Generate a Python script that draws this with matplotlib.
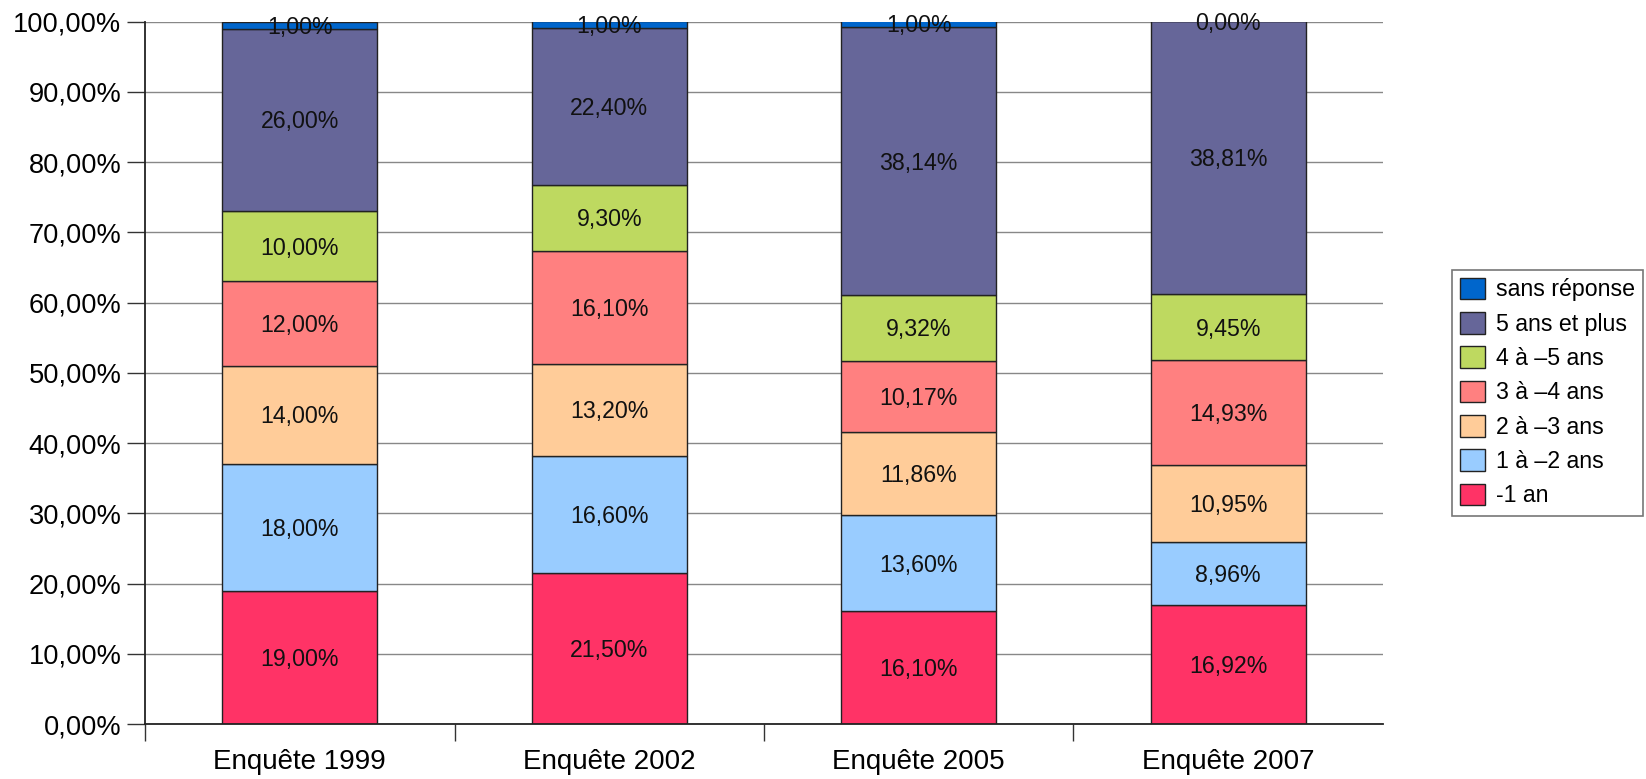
import numpy as np
import matplotlib
matplotlib.use('Agg')
import matplotlib.pyplot as plt
from matplotlib.ticker import FixedLocator
from matplotlib.transforms import offset_copy

plt.rcParams['font.family'] = ['Liberation Sans', 'DejaVu Sans']

# data
surveys = ['Enquête 1999', 'Enquête 2002', 'Enquête 2005', 'Enquête 2007']
labels = ['-1 an', '1 à –2 ans', '2 à –3 ans', '3 à –4 ans', '4 à –5 ans', '5 ans et plus', 'sans réponse']
moins_1 = [19.00, 21.50, 16.10, 16.92]
un_2 = [18.00, 16.60, 13.60, 8.96]
deux_3 = [14.00, 13.20, 11.86, 10.95]
trois_4 = [12.00, 16.10, 10.17, 14.93]
quatre_5 = [10.00, 9.30, 9.32, 9.45]
cinq_plus = [26.00, 22.40, 38.14, 38.81]
sans_rep = [1.00, 1.00, 1.00, 0.00]

series = [moins_1, un_2, deux_3, trois_4, quatre_5, cinq_plus, sans_rep]
colors = ['#FF3366', '#99CCFF', '#FFCC99', '#FF8080', '#BED960', '#666699', '#0066CC']

fig = plt.figure(figsize=(16.46, 7.79), dpi=100)
ax = fig.add_axes([0.0881, 0.0706, 0.7521, 0.9018])

# labels sit a touch lower than the exact middle
lab_trans = offset_copy(ax.transData, fig=fig, x=0, y=-2, units='dots')

x = np.arange(len(surveys))
bottom = np.zeros(len(surveys))
handles = []
for vals, col, lab in zip(series, colors, labels):
    vals = np.array(vals)
    b = ax.bar(x, vals, width=0.5, bottom=bottom, color=col, edgecolor='#222222',
               linewidth=1.0, label=lab, zorder=3)
    handles.append(b)
    for i in range(len(x)):
        ymid = bottom[i] + vals[i] / 2
        txt = f'{vals[i]:.2f}%'.replace('.', ',')
        ax.text(x[i], ymid, txt, ha='center', va='center', fontsize=16.7,
                color='#111111', zorder=5, clip_on=False, transform=lab_trans)
    bottom += vals

ax.set_xlim(-0.5, 3.5)
ax.set_ylim(0, 100)
ax.set_yticks(np.arange(0, 101, 10))
ax.set_yticklabels([f'{v:.2f}%'.replace('.', ',') for v in np.arange(0, 101, 10)], fontsize=19.6)
ax.yaxis.grid(True, color='#888888', linewidth=1.0, zorder=0)
ax.set_axisbelow(True)

ax.set_xticks(x)
ax.set_xticklabels(surveys, fontsize=20)
ax.tick_params(axis='x', which='major', length=0, pad=18)
ax.xaxis.set_minor_locator(FixedLocator([-0.5, 0.5, 1.5, 2.5]))
ax.tick_params(axis='x', which='minor', length=12, width=1, color='#333333', direction='out')
ax.tick_params(axis='y', length=13, width=1, color='#333333', direction='out', pad=4)

for s in ['top', 'right']:
    ax.spines[s].set_visible(False)
for s in ['left', 'bottom']:
    ax.spines[s].set_color('#222222')
    ax.spines[s].set_linewidth(1.3)
    ax.spines[s].set_zorder(4)

leg = fig.legend(handles[::-1], labels[::-1], loc='center left',
                 bbox_to_anchor=(0.882, 0.496), fontsize=16.7, frameon=True,
                 fancybox=False, edgecolor='#555555', handlelength=1.1,
                 handleheight=1.05, labelspacing=0.46, handletextpad=0.45,
                 borderpad=0.35, borderaxespad=0)
leg.get_frame().set_linewidth(1.2)

fig.savefig('out.png', dpi=100)
